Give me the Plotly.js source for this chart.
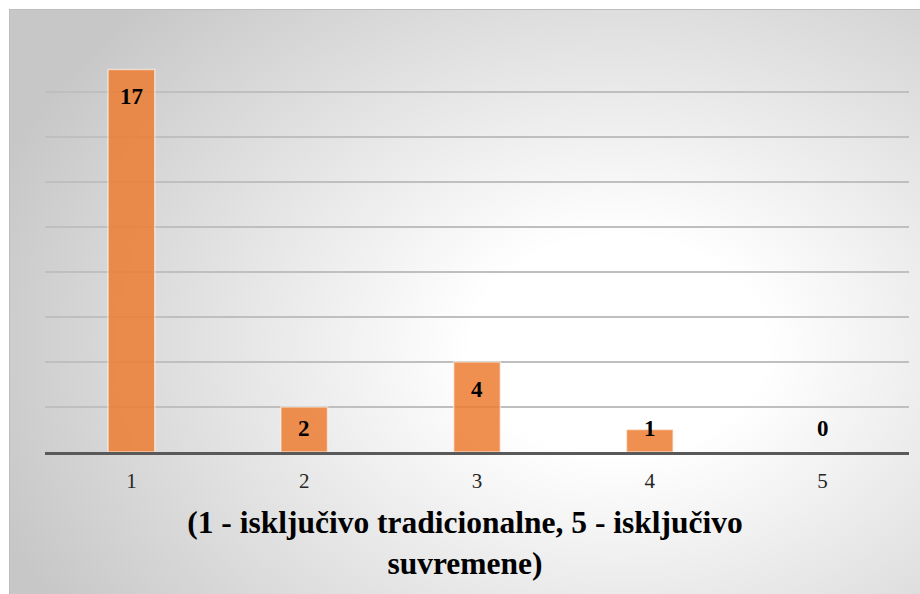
<!DOCTYPE html>
<html>
<head>
<meta charset="utf-8">
<script src="https://cdn.plot.ly/plotly-3.0.1.min.js"></script>
<style>
  html, body { margin: 0; padding: 0; background: #ffffff; }
  #frame {
    position: absolute; left: 9px; top: 9px; width: 920px; height: 600px;
    border-left: 1px solid #bdbdbd; border-top: 1px solid #bdbdbd;
    background: radial-gradient(ellipse 72% 82% at 66% 56%, #ffffff 0%, #ffffff 22%, #c7c7c7 100%);
  }
  #chart { position: absolute; left: 0; top: 0; width: 920px; height: 594px; }
</style>
</head>
<body>
<div id="frame"></div>
<div id="chart"></div>
<script>
const categories = ['1', '2', '3', '4', '5'];
const values = [17, 2, 4, 1, 0];
const axisTitle = '(1 - isključivo tradicionalne, 5 - isključivo<br>suvremene)';

const serif = "'Liberation Serif', 'Times New Roman', Times, serif";
const labelFont = { family: serif, size: 23, color: '#000000' };

const annotations = categories.map((c, i) => {
  const v = values[i];
  const inside = v >= 2.3;
  return {
    x: i, y: inside ? v : 0, xref: 'x', yref: 'y',
    text: '<b>' + v + '</b>', showarrow: false,
    yanchor: 'middle', yshift: inside ? -27 : 24,
    font: labelFont
  };
});

const trace = {
  type: 'bar', x: categories, y: values,
  width: 0.27,
  marker: { color: 'rgba(237,125,49,0.85)', line: { color: 'rgba(255,255,255,0.55)', width: 1.5 } },
  hoverinfo: 'skip'
};

const layout = {
  width: 920, height: 594,
  paper_bgcolor: 'rgba(0,0,0,0)', plot_bgcolor: 'rgba(0,0,0,0)',
  margin: { l: 45, r: 11, t: 47, b: 142 },
  showlegend: false,
  title: {
    text: '<b>' + axisTitle + '</b>',
    x: 465 / 920, xanchor: 'center', xref: 'container',
    y: 1 - 533 / 594, yanchor: 'middle', yref: 'container',
    font: { family: serif, size: 31.5, color: '#000000' }
  },
  xaxis: {
    type: 'category', range: [-0.5, 4.5], showgrid: false, zeroline: false,
    showline: true, linecolor: '#595959', linewidth: 3,
    ticks: '', ticklabelstandoff: 8,
    tickfont: { family: serif, size: 21, color: '#262626' }
  },
  yaxis: {
    range: [0, 18], dtick: 2, showticklabels: false, ticks: '',
    showgrid: true, gridcolor: '#bfbfbf', gridwidth: 1.5, zeroline: false, showline: false
  },
  annotations: annotations
};

Plotly.newPlot('chart', [trace], layout, { displayModeBar: false, staticPlot: true });
</script>
</body>
</html>
